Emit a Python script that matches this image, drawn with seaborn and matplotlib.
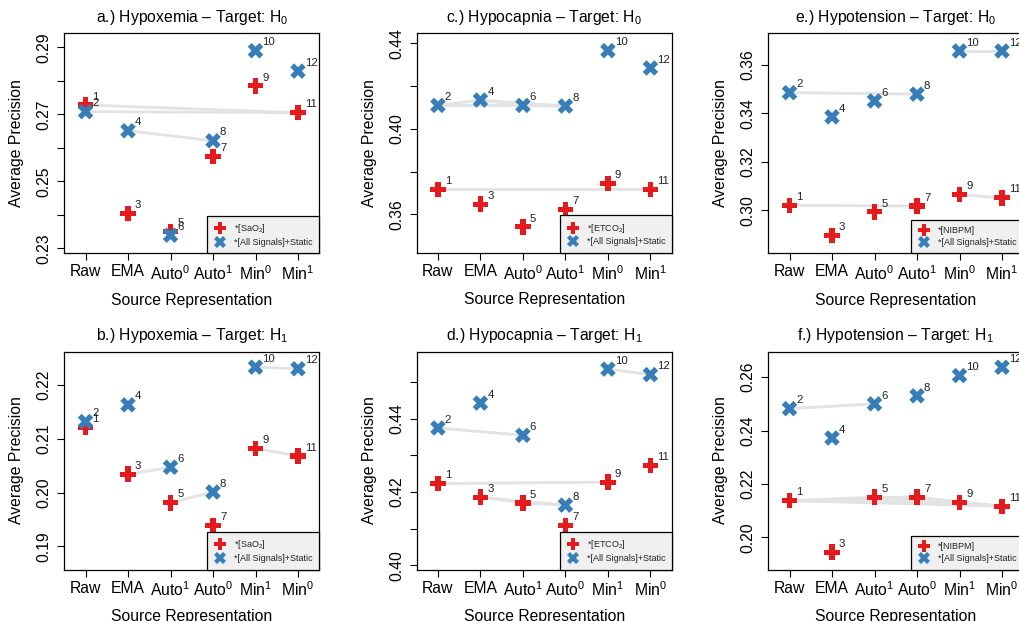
import numpy as np
import pandas as pd
import matplotlib
matplotlib.use("Agg")
import matplotlib.pyplot as plt
from matplotlib.lines import Line2D
import seaborn as sns

# ---------------- data ----------------
cats_h0 = ["Raw", "EMA", r"Auto$\mathregular{^0}$", r"Auto$\mathregular{^1}$",
           r"Min$\mathregular{^0}$", r"Min$\mathregular{^1}$"]
cats_h1 = ["Raw", "EMA", r"Auto$\mathregular{^1}$", r"Auto$\mathregular{^0}$",
           r"Min$\mathregular{^1}$", r"Min$\mathregular{^0}$"]

# red = single-signal model (odd ids 1,3,..,11); blue = all signals + static (even ids 2,..,12)
hypox_h0_single = [0.2728, 0.2404, 0.2350, 0.2574, 0.2785, 0.2705]
hypox_h0_all    = [0.2708, 0.2651, 0.2339, 0.2621, 0.2890, 0.2829]
hypoc_h0_single = [0.3717, 0.3648, 0.3542, 0.3623, 0.3745, 0.3717]
hypoc_h0_all    = [0.4110, 0.4135, 0.4110, 0.4107, 0.4366, 0.4285]
hypot_h0_single = [0.3021, 0.2897, 0.2994, 0.3018, 0.3065, 0.3052]
hypot_h0_all    = [0.3486, 0.3386, 0.3452, 0.3480, 0.3658, 0.3658]

hypox_h1_single = [0.2121, 0.2034, 0.1981, 0.1939, 0.2082, 0.2068]
hypox_h1_all    = [0.2132, 0.2163, 0.2047, 0.2001, 0.2233, 0.2230]
hypoc_h1_single = [0.4223, 0.4186, 0.4170, 0.4109, 0.4227, 0.4273]
hypoc_h1_all    = [0.4375, 0.4443, 0.4355, 0.4164, 0.4536, 0.4521]
hypot_h1_single = [0.2137, 0.1944, 0.2150, 0.2150, 0.2131, 0.2116]
hypot_h1_all    = [0.2482, 0.2372, 0.2500, 0.2530, 0.2606, 0.2637]

# grey links between points (by point id)
links_a = [(1, 11), (2, 11), (4, 8)]
links_c = [(1, 11), (2, 4), (2, 6), (2, 8), (4, 6), (4, 8), (6, 8)]
links_e = [(1, 7), (2, 8), (9, 11), (10, 12)]
links_b = [(1, 2), (3, 6), (5, 8), (9, 11), (10, 12)]
links_d = [(1, 9), (2, 6), (3, 5), (5, 8), (3, 8), (10, 12)]
links_f = [(2, 6), (1, 5), (1, 7), (1, 9), (1, 11), (5, 7), (5, 9), (5, 11),
           (7, 9), (7, 11), (9, 11)]

titles = [r"a.) Hypoxemia – Target: H$\mathregular{_0}$",
          r"c.) Hypocapnia – Target: H$\mathregular{_0}$",
          r"e.) Hypotension – Target: H$\mathregular{_0}$",
          r"b.) Hypoxemia – Target: H$\mathregular{_1}$",
          r"d.) Hypocapnia – Target: H$\mathregular{_1}$",
          r"f.) Hypotension – Target: H$\mathregular{_1}$"]
single_labels = [r"*[SaO$\mathregular{_2}$]", r"*[ETCO$\mathregular{_2}$]", "*[NIBPM]"]
all_label = "*[All Signals]+Static"

yticks_a = [0.23, 0.24, 0.25, 0.26, 0.27, 0.28, 0.29]
ylabels_a = ["0.23", "", "0.25", "", "0.27", "", "0.29"]
yticks_c = [0.36, 0.38, 0.40, 0.42, 0.44]
ylabels_c = ["0.36", "", "0.40", "", "0.44"]
yticks_e = [0.30, 0.32, 0.34, 0.36]
ylabels_e = ["0.30", "0.32", "0.34", "0.36"]
yticks_b = [0.19, 0.20, 0.21, 0.22]
ylabels_b = ["0.19", "0.20", "0.21", "0.22"]
yticks_d = [0.40, 0.41, 0.42, 0.43, 0.44, 0.45]
ylabels_d = ["0.40", "", "0.42", "", "0.44", ""]
yticks_f = [0.20, 0.22, 0.24, 0.26]
ylabels_f = ["0.20", "0.22", "0.24", "0.26"]

# ---------------- style ----------------
sns.set_style("ticks")
plt.rcParams["font.family"] = ["Liberation Sans", "DejaVu Sans"]
plt.rcParams["mathtext.fontset"] = "custom"
plt.rcParams["mathtext.rm"] = "Liberation Sans"
plt.rcParams["mathtext.it"] = "Liberation Sans:italic"
plt.rcParams["mathtext.bf"] = "Liberation Sans:bold"
for k in ["text.color", "axes.labelcolor", "xtick.color", "ytick.color", "axes.edgecolor"]:
    plt.rcParams[k] = "black"

RED = "#E41A1C"
BLUE = "#377EB8"
LINK = "#e3e3e3"
FS = 11.3

fig = plt.figure(figsize=(10.2, 6.21), dpi=100)

panels = [
    dict(cats=cats_h0, s=hypox_h0_single, a=hypox_h0_all, links=links_a, yt=yticks_a, yl=ylabels_a,
         ylim=(0.2285, 0.2942), lab=single_labels[0], pos=[0.0630, 0.5921, 0.25, 0.3543]),
    dict(cats=cats_h0, s=hypoc_h0_single, a=hypoc_h0_all, links=links_c, yt=yticks_c, yl=ylabels_c,
         ylim=(0.3421, 0.4447), lab=single_labels[1], pos=[0.4085, 0.5930, 0.25, 0.3533]),
    dict(cats=cats_h0, s=hypot_h0_single, a=hypot_h0_all, links=links_e, yt=yticks_e, yl=ylabels_e,
         ylim=(0.2823, 0.3731), lab=single_labels[2], pos=[0.7532, 0.5921, 0.25, 0.3543]),
    dict(cats=cats_h1, s=hypox_h1_single, a=hypox_h1_all, links=links_b, yt=yticks_b, yl=ylabels_b,
         ylim=(0.1857, 0.2262), lab=single_labels[0], pos=[0.0630, 0.0829, 0.25, 0.3510]),
    dict(cats=cats_h1, s=hypoc_h1_single, a=hypoc_h1_all, links=links_d, yt=yticks_d, yl=ylabels_d,
         ylim=(0.3988, 0.4584), lab=single_labels[1], pos=[0.4085, 0.0829, 0.25, 0.3510]),
    dict(cats=cats_h1, s=hypot_h1_single, a=hypot_h1_all, links=links_f, yt=yticks_f, yl=ylabels_f,
         ylim=(0.1879, 0.2696), lab=single_labels[2], pos=[0.7532, 0.0829, 0.25, 0.3510]),
]

for p, title in zip(panels, titles):
    ax = fig.add_axes(p["pos"])
    n = len(p["cats"])
    pos = np.arange(n)
    df = pd.concat([
        pd.DataFrame({"x": pos, "y": p["s"], "model": "single", "id": 2 * pos + 1}),
        pd.DataFrame({"x": pos, "y": p["a"], "model": "all", "id": 2 * pos + 2}),
    ], ignore_index=True)
    lookup = df.set_index("id")

    # grey links
    for i, j in p["links"]:
        ax.plot([lookup.loc[i, "x"], lookup.loc[j, "x"]],
                [lookup.loc[i, "y"], lookup.loc[j, "y"]],
                color=LINK, lw=2.0, zorder=1, solid_capstyle="butt")

    sns.scatterplot(data=df, x="x", y="y", hue="model", style="model",
                    palette={"single": RED, "all": BLUE},
                    markers={"single": "P", "all": "X"},
                    s=125, linewidth=0, legend=False, ax=ax, zorder=3)

    for _, r in df.iterrows():
        ax.annotate(str(int(r["id"])), (r["x"], r["y"]), xytext=(5, 6),
                    textcoords="offset points", ha="left", va="center",
                    fontsize=8.2, color="#222222", zorder=4)

    ax.set_xlim(-0.5, n - 0.5)
    ax.set_ylim(*p["ylim"])
    ax.set_xticks(pos)
    ax.set_xticklabels(p["cats"], fontsize=FS)
    ax.set_yticks(p["yt"])
    ax.set_yticklabels(p["yl"], fontsize=FS, rotation=90, va="center")
    ax.tick_params(axis="both", direction="out", length=5, width=0.8, color="black",
                   labelcolor="black")
    ax.tick_params(axis="x", pad=3)
    ax.tick_params(axis="y", pad=4)
    for sp in ax.spines.values():
        sp.set_visible(True)
        sp.set_color("black")
        sp.set_linewidth(0.9)
    ax.set_xlabel("Source Representation", fontsize=FS, labelpad=7, color="black")
    ax.set_ylabel("Average Precision", fontsize=FS, labelpad=9, color="black")
    ax.set_title(title, fontsize=FS, pad=8, color="black")

    handles = [
        Line2D([], [], marker="P", color=RED, linestyle="none", markersize=8.5, markeredgewidth=0),
        Line2D([], [], marker="X", color=BLUE, linestyle="none", markersize=8.5, markeredgewidth=0),
    ]
    leg = ax.legend(handles, [p["lab"], all_label], loc="lower right", fontsize=6.5,
                    frameon=True, fancybox=False, borderaxespad=0, handletextpad=0.8,
                    borderpad=0.7, labelspacing=0.3, handlelength=1.5)
    leg.get_frame().set_facecolor("#f0f0f0")
    leg.get_frame().set_edgecolor("black")
    leg.get_frame().set_linewidth(0.9)
    leg.get_frame().set_alpha(1)
    for t in leg.get_texts():
        t.set_color("#222222")
    leg.set_zorder(5)

fig.savefig("out.png", dpi=100)
